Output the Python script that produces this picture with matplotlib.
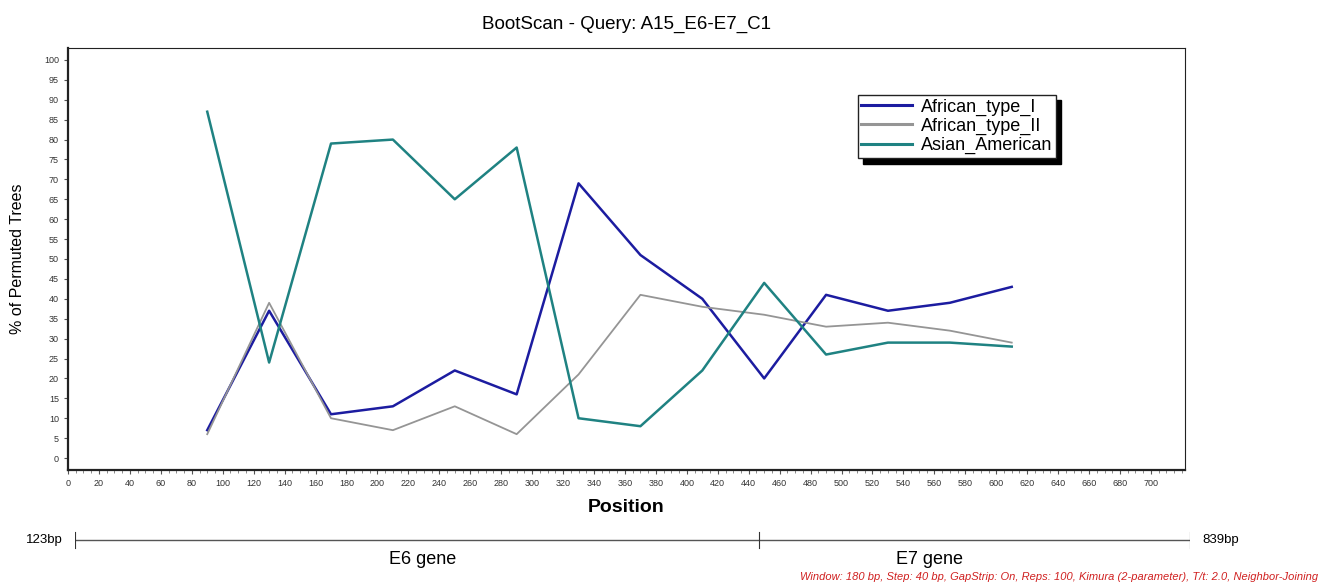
import matplotlib
matplotlib.use("Agg")
import matplotlib.pyplot as plt
from matplotlib.ticker import MultipleLocator, FixedLocator

plt.rcParams['font.family'] = ['Liberation Sans', 'DejaVu Sans']

# bootscan window midpoints (bp) and % of permuted trees
positions = [90, 130, 170, 210, 250, 290, 330, 370, 410, 450, 490, 530, 570, 610]
african_type_i = [7, 37, 11, 13, 22, 16, 69, 51, 40, 20, 41, 37, 39, 43]
african_type_ii = [6, 39, 10, 7, 13, 6, 21, 41, 38, 36, 33, 34, 32, 29]
asian_american = [87, 24, 79, 80, 65, 78, 10, 8, 22, 44, 26, 29, 29, 28]

series_names = ['African_type_I', 'African_type_II', 'Asian_American']
series_colors = ['#1c1ca0', '#959595', '#1f8282']
series_widths = [1.8, 1.3, 1.8]

# genome region shown in the lower bar
region_start, region_end = 123, 839
gene_boundary = 562
gene_names = ['E6 gene', 'E7 gene']
gene_label_pos = [346, 672]

fig = plt.figure(figsize=(13.22, 5.85), dpi=100)
ax = fig.add_axes([68 / 1322, 1 - 470 / 585, 1117 / 1322, 422 / 585])

for vals, name, col, lw in zip([african_type_i, african_type_ii, asian_american],
                               series_names, series_colors, series_widths):
    ax.plot(positions, vals, color=col, lw=lw, label=name)

ax.set_xlim(0, 722)
ax.set_ylim(-3, 103)
ax.xaxis.set_major_locator(FixedLocator(list(range(0, 701, 20))))
ax.xaxis.set_minor_locator(MultipleLocator(5))
ax.yaxis.set_major_locator(FixedLocator(list(range(0, 101, 5))))
ax.tick_params(axis='both', which='major', labelsize=6.5, length=3, colors='#555555',
               labelcolor='#333333')
ax.tick_params(axis='both', which='minor', length=2, colors='#777777')
for sp in ax.spines.values():
    sp.set_linewidth(1.6)
    sp.set_color('#222222')
ax.spines['top'].set_linewidth(0.8)
ax.spines['right'].set_linewidth(0.8)

ax.set_title('BootScan - Query: A15_E6-E7_C1', fontsize=13.5, pad=14)
ax.set_xlabel('Position', fontsize=14, fontweight='bold', labelpad=8)
ax.set_ylabel('% of Permuted Trees', fontsize=11.5, labelpad=14)

leg = ax.legend(loc='upper left', bbox_to_anchor=(0.707, 0.889), borderaxespad=0,
                fontsize=13, frameon=True, fancybox=False, handlelength=2.8,
                labelspacing=0.12, borderpad=0.2, handletextpad=0.5,
                shadow={'color': 'black', 'alpha': 1, 'ox': 4, 'oy': -4})
leg.get_frame().set_edgecolor('#222222')
leg.get_frame().set_linewidth(1.0)
for line in leg.get_lines():
    line.set_linewidth(2.2)

# gene map bar below the plot
gax = fig.add_axes([75 / 1322, 1 - 570 / 585, 1115 / 1322, 40 / 585])
gax.set_xlim(region_start, region_end)
gax.set_ylim(-1, 1)
gax.axis('off')
gax.plot([region_start, region_end], [0.5, 0.5], color='#555555', lw=1.0)
for xb in [region_start, gene_boundary, region_end]:
    gax.plot([xb, xb], [0.1, 0.9], color='#333333', lw=0.8)
gax.text(region_start - 8, 0.5, '%dbp' % region_start, ha='right', va='center', fontsize=9.5)
gax.text(region_end + 8, 0.5, '%dbp' % region_end, ha='left', va='center', fontsize=9.5)
for name, xp in zip(gene_names, gene_label_pos):
    gax.text(xp, -0.5, name, ha='center', va='center', fontsize=13)

fig.text(1318 / 1322, 1 - 577 / 585,
         'Window: 180 bp, Step: 40 bp, GapStrip: On, Reps: 100, Kimura (2-parameter), T/t: 2.0, Neighbor-Joining',
         ha='right', va='center', fontsize=8, style='italic', color='#d02020')

fig.savefig('out.png', dpi=100)
